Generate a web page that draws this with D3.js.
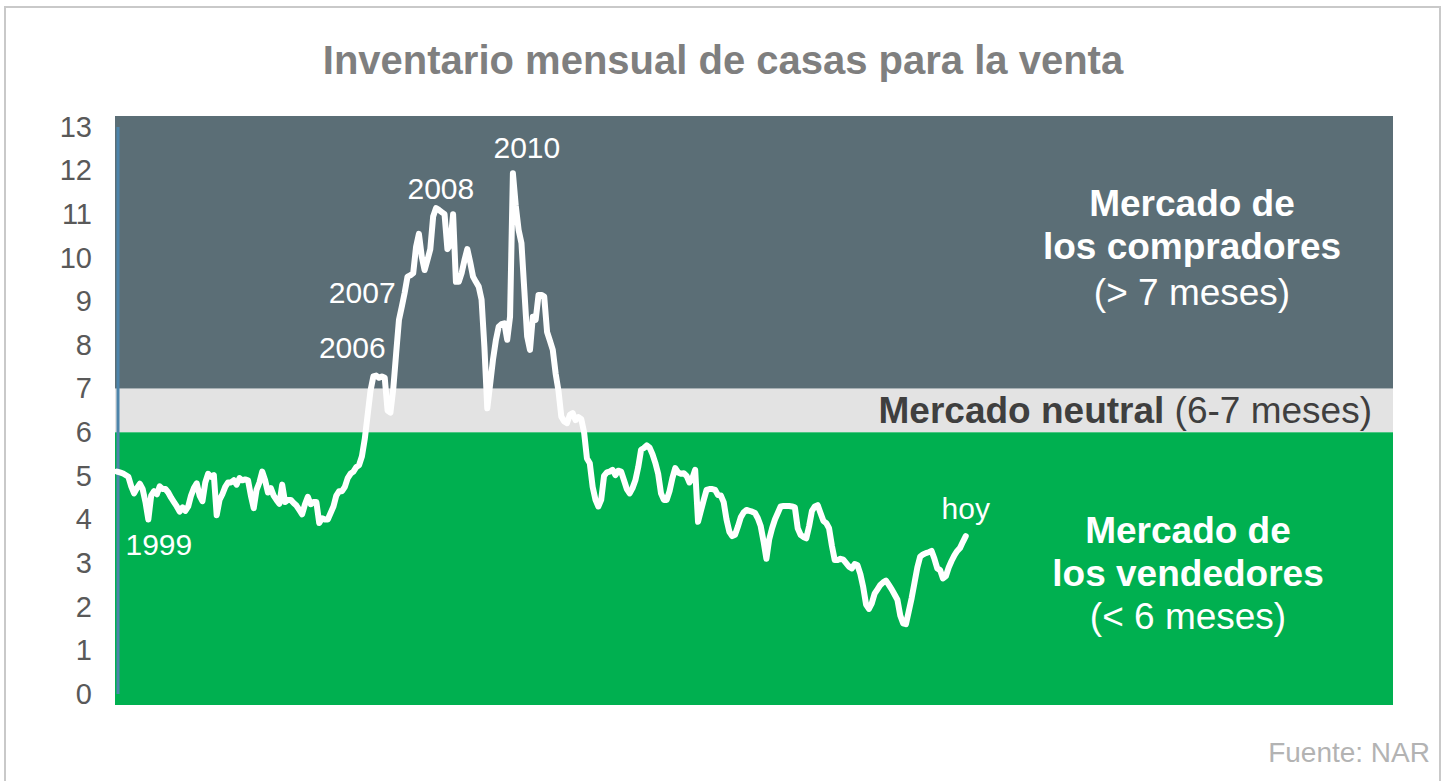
<!DOCTYPE html>
<html>
<head>
<meta charset="utf-8">
<script src="https://cdn.jsdelivr.net/npm/d3@7"></script>
<style>
  body { margin: 0; background: #ffffff; }
  text { font-family: "Liberation Sans", Arial, sans-serif; }
</style>
</head>
<body>
<div id="chart"></div>
<script>

// meses de inventario, un valor por mes desde enero de 1999
var startYear = 1999;
var inventory = [
  5.10, 5.08, 5.06, 5.02, 4.98, 4.76, 4.60, 4.72, 4.82, 4.70, 4.40, 4.00,  // 1999
  4.55, 4.65, 4.58, 4.76, 4.70, 4.70, 4.62, 4.50, 4.40, 4.30, 4.18, 4.28,  // 2000
  4.20, 4.30, 4.55, 4.72, 4.83, 4.55, 4.42, 4.85, 5.05, 4.98, 5.02, 4.10,  // 2001
  4.45, 4.58, 4.75, 4.85, 4.85, 4.90, 4.80, 4.95, 4.90, 4.92, 4.90, 4.55,  // 2002
  4.26, 4.68, 4.85, 5.10, 4.90, 4.62, 4.72, 4.55, 4.45, 4.36, 4.80, 4.40,  // 2003
  4.45, 4.45, 4.38, 4.32, 4.22, 4.12, 4.35, 4.52, 4.35, 4.40, 4.40, 3.92,  // 2004
  4.03, 4.00, 4.00, 4.15, 4.30, 4.55, 4.65, 4.65, 4.75, 4.95, 5.05, 5.10,  // 2005
  5.20, 5.25, 5.45, 5.85, 6.40, 6.95, 7.28, 7.30, 7.25, 7.28, 7.25, 6.50,  // 2006
  6.45, 7.00, 7.80, 8.58, 8.88, 9.20, 9.57, 9.60, 9.65, 10.25, 10.55, 10.03, // 2007
  9.72, 9.95, 10.20, 10.95, 11.14, 11.10, 11.05, 11.00, 10.20, 10.30, 11.00, 9.45, // 2008
  9.45, 9.65, 9.95, 10.20, 9.90, 9.57, 9.45, 9.34, 9.04, 7.95, 6.55, 7.10, // 2009
  7.66, 8.10, 8.42, 8.48, 8.50, 8.12, 8.65, 11.94, 11.20, 10.64, 10.34, 9.27, // 2010
  8.20, 7.89, 8.65, 8.58, 9.15, 9.15, 9.11, 8.30, 8.10, 7.89, 7.35, 6.95,  // 2011
  6.36, 6.25, 6.21, 6.40, 6.44, 6.28, 6.35, 6.30, 6.00, 5.40, 5.29, 4.75,  // 2012
  4.45, 4.30, 4.45, 5.00, 5.08, 5.10, 5.14, 5.02, 5.12, 5.10, 4.90, 4.70,  // 2013
  4.60, 4.72, 4.90, 5.20, 5.60, 5.64, 5.70, 5.65, 5.50, 5.30, 5.05, 4.60,  // 2014
  4.45, 4.45, 4.65, 4.95, 5.18, 5.08, 5.05, 5.06, 5.00, 4.85, 4.95, 5.14,  // 2015
  3.95, 4.20, 4.45, 4.68, 4.70, 4.70, 4.68, 4.56, 4.55, 4.40, 4.00, 3.72,  // 2016
  3.62, 3.65, 3.84, 4.05, 4.16, 4.22, 4.20, 4.18, 4.15, 4.03, 3.85, 3.50,  // 2017
  3.10, 3.55, 3.80, 4.00, 4.15, 4.30, 4.31, 4.31, 4.31, 4.30, 4.28, 3.80,  // 2018
  3.65, 3.60, 3.57, 3.85, 4.20, 4.30, 4.33, 4.15, 3.97, 3.92, 3.80, 3.40,  // 2019
  3.07, 3.07, 3.10, 3.08, 3.00, 2.92, 2.88, 2.98, 2.95, 2.75, 2.45, 2.05,  // 2020
  1.95, 2.08, 2.30, 2.40, 2.50, 2.56, 2.60, 2.50, 2.40, 2.28, 2.16, 1.80,  // 2021
  1.62, 1.60, 1.90, 2.20, 2.55, 2.90, 3.15, 3.20, 3.23, 3.25, 3.28, 3.10,  // 2022
  2.88, 2.84, 2.65, 2.70, 2.90, 3.05, 3.18, 3.28, 3.35, 3.49, 3.62         // 2023
];

// marcas del eje y
var yTicks = [0, 1, 2, 3, 4, 5, 6, 7, 8, 9, 10, 11, 12, 13];

// limites de las zonas del mercado (meses)
var neutralLow = 6;
var neutralHigh = 7;

// etiquetas de los años, ancladas en (mes, valor)
var yearLabels = ["1999", "2006", "2007", "2008", "2010", "hoy"];
var labelMonths = [14.7, 82.6, 86.1, 113.7, 143.9, 298];
var labelValues = [3.19, 7.71, 8.97, 11.35, 12.29, 4.01];

window.onload = function () {
  draw_chart();
};

function draw_chart() {

  var width = 1447;
  var height = 781;

  var plot = {left: 115, right: 1393, top: 116, bottom: 705};

  var svg = d3.select("#chart")
              .append("svg")
                .attr("width", width)
                .attr("height", height);

  // outer frame
  svg.append("rect")
    .attr("x", 5)
    .attr("y", 7)
    .attr("width", 1435)
    .attr("height", 800)
    .attr("fill", "none")
    .attr("stroke", "#c9c9c9")
    .attr("stroke-width", 2);

  // scales: one step per month
  var x_scale = d3.scaleLinear()
                  .domain([0, 448])
                  .range([117, 1393]);

  var y_scale = d3.scaleLinear()
                  .domain([0, 13])
                  .range([694, 127]);

  // market zones
  svg.append("rect")
    .attr("x", plot.left)
    .attr("y", plot.top)
    .attr("width", plot.right - plot.left)
    .attr("height", y_scale(neutralHigh) - plot.top)
    .attr("fill", "#5b6e76");

  svg.append("rect")
    .attr("x", plot.left)
    .attr("y", y_scale(neutralHigh))
    .attr("width", plot.right - plot.left)
    .attr("height", y_scale(neutralLow) - y_scale(neutralHigh))
    .attr("fill", "#e3e3e3");

  svg.append("rect")
    .attr("x", plot.left)
    .attr("y", y_scale(neutralLow))
    .attr("width", plot.right - plot.left)
    .attr("height", plot.bottom - y_scale(neutralLow))
    .attr("fill", "#00b050");

  // blue axis line
  svg.append("line")
    .attr("x1", 118)
    .attr("x2", 118)
    .attr("y1", y_scale(13))
    .attr("y2", y_scale(0))
    .attr("stroke", "#4d84aa")
    .attr("stroke-width", 3);

  // y axis labels
  var y_axis = svg.append("g")
    .attr("transform", "translate(92,0)")
    .call(d3.axisLeft(y_scale)
            .tickValues(yTicks)
            .tickSize(0)
            .tickPadding(0));

  y_axis.select(".domain").remove();
  y_axis.selectAll("text")
    .attr("font-family", "Liberation Sans, Arial, sans-serif")
    .attr("font-size", 29)
    .attr("fill", "#595959");

  // inventory line
  var line = d3.line()
               .x(function(d, i) { return x_scale(i); })
               .y(function(d) { return y_scale(d); });

  svg.append("path")
    .datum(inventory)
    .attr("d", line)
    .attr("fill", "none")
    .attr("stroke", "#ffffff")
    .attr("stroke-width", 6)
    .attr("stroke-linejoin", "round")
    .attr("stroke-linecap", "round");

  // year labels
  svg.append("g")
    .selectAll("text")
    .data(yearLabels)
    .enter()
    .append("text")
      .attr("x", function(d, i) { return x_scale(labelMonths[i]); })
      .attr("y", function(d, i) { return y_scale(labelValues[i]); })
      .attr("text-anchor", "middle")
      .attr("font-size", 30)
      .attr("fill", "#ffffff")
      .text(function(d) { return d; });

  // title
  svg.append("text")
    .attr("x", 723)
    .attr("y", 74)
    .attr("text-anchor", "middle")
    .attr("font-size", 40)
    .attr("font-weight", "bold")
    .attr("fill", "#7f7f7f")
    .text("Inventario mensual de casas para la venta");

  // zone text: compradores
  var buyers = svg.append("text")
    .attr("text-anchor", "middle")
    .attr("font-size", 37)
    .attr("fill", "#ffffff");

  buyers.append("tspan").attr("x", 1192).attr("y", 216)
    .attr("font-weight", "bold").text("Mercado de");
  buyers.append("tspan").attr("x", 1192).attr("y", 259)
    .attr("font-weight", "bold").text("los compradores");
  buyers.append("tspan").attr("x", 1192).attr("y", 305)
    .text("(> 7 meses)");

  // zone text: neutral
  var neutral = svg.append("text")
    .attr("x", 1372)
    .attr("y", (y_scale(neutralLow) + y_scale(neutralHigh)) / 2)
    .attr("dy", "0.35em")
    .attr("text-anchor", "end")
    .attr("font-size", 37)
    .attr("fill", "#3f3f3f");

  neutral.append("tspan").attr("font-weight", "bold").text("Mercado neutral");
  neutral.append("tspan").text(" (6-7 meses)");

  // zone text: vendedores
  var sellers = svg.append("text")
    .attr("text-anchor", "middle")
    .attr("font-size", 37)
    .attr("fill", "#ffffff");

  sellers.append("tspan").attr("x", 1188).attr("y", 543)
    .attr("font-weight", "bold").text("Mercado de");
  sellers.append("tspan").attr("x", 1188).attr("y", 586)
    .attr("font-weight", "bold").text("los vendedores");
  sellers.append("tspan").attr("x", 1188).attr("y", 629)
    .text("(< 6 meses)");

  // source
  svg.append("text")
    .attr("x", 1430)
    .attr("y", 762)
    .attr("text-anchor", "end")
    .attr("font-size", 28)
    .attr("fill", "#b3b3b3")
    .text("Fuente: NAR");
}

</script>
</body>
</html>
